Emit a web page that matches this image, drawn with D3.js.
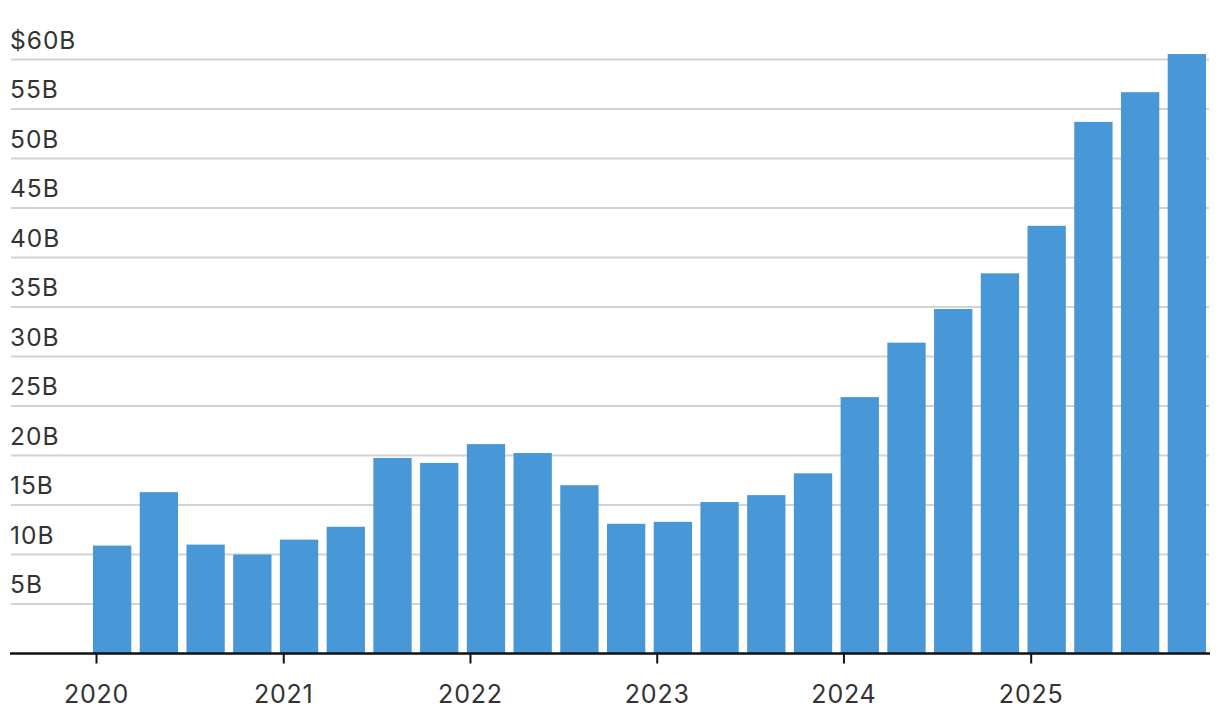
<!DOCTYPE html>
<html>
<head>
<meta charset="utf-8">
<script src="https://cdn.jsdelivr.net/npm/d3@7"></script>
<style>
  html, body { margin: 0; padding: 0; background: #fff; }
  svg { display: block; }
</style>
</head>
<body>
<svg id="chart" width="1220" height="728"></svg>
<script>
const quarters = [
  "2020 Q1","2020 Q2","2020 Q3","2020 Q4",
  "2021 Q1","2021 Q2","2021 Q3","2021 Q4",
  "2022 Q1","2022 Q2","2022 Q3","2022 Q4",
  "2023 Q1","2023 Q2","2023 Q3","2023 Q4",
  "2024 Q1","2024 Q2","2024 Q3","2024 Q4",
  "2025 Q1","2025 Q2","2025 Q3","2025 Q4"
];
const values = [
  10.9, 16.3, 11.0, 10.0,
  11.5, 12.8, 19.75, 19.25,
  21.15, 20.25, 17.0, 13.1,
  13.3, 15.3, 16.0, 18.2,
  25.9, 31.4, 34.8, 38.4,
  43.2, 53.7, 56.7, 60.55
];
const yTicks = [5, 10, 15, 20, 25, 30, 35, 40, 45, 50, 55, 60];
const yTickLabels = ["5B","10B","15B","20B","25B","30B","35B","40B","45B","50B","55B","$60B"];
const yearTicks = [2020, 2021, 2022, 2023, 2024, 2025];

const svg = d3.select("#chart");
const font = "Inter, Lato, sans-serif";
const textColor = "#333333";

const y = d3.scaleLinear().domain([0, 60]).range([653.5, 59.5]);
const x = d3.scaleBand().domain(quarters).range([93, 1206]).paddingInner(0.18).paddingOuter(0);
const t = d3.scaleTime()
  .domain([new Date(2020, 0, 1), new Date(2025, 0, 1)])
  .range([96, 1030.7]);

// gridlines
const grid = svg.append("g");
grid.selectAll("line").data(yTicks).join("line")
  .attr("x1", 11).attr("x2", 1209)
  .attr("y1", d => y(d)).attr("y2", d => y(d))
  .attr("stroke", "#d3d3d3").attr("stroke-width", 2);

// y labels
svg.append("g").selectAll("text").data(yTicks).join("text")
  .attr("x", 10)
  .attr("y", d => y(d) - 11)
  .attr("font-family", font)
  .attr("font-size", 24.5)
  .attr("letter-spacing", 1)
  .attr("fill", textColor)
  .text((d, i) => yTickLabels[i]);

// bars
svg.append("g").selectAll("rect").data(values).join("rect")
  .attr("x", (d, i) => x(quarters[i]))
  .attr("width", x.bandwidth())
  .attr("y", d => y(d))
  .attr("height", d => y(0) - y(d))
  .attr("fill", "#4898d7");

// x axis
const xAxis = d3.axisBottom(t)
  .tickValues(yearTicks.map(yr => new Date(yr, 0, 1)))
  .tickFormat(d3.timeFormat("%Y"))
  .tickSize(10);
const gx = svg.append("g").attr("transform", `translate(0,${y(0)})`).call(xAxis);
gx.select(".domain").remove();
gx.selectAll(".tick line").attr("stroke", "#111").attr("stroke-width", 2);
gx.selectAll(".tick text")
  .attr("y", 49)
  .attr("dy", 0)
  .attr("font-family", font)
  .attr("font-size", 25)
  .attr("letter-spacing", 0.8)
  .attr("fill", textColor);
gx.append("line")
  .attr("x1", 10).attr("x2", 1210)
  .attr("y1", 0).attr("y2", 0)
  .attr("stroke", "#111").attr("stroke-width", 2.5);
</script>
</body>
</html>
